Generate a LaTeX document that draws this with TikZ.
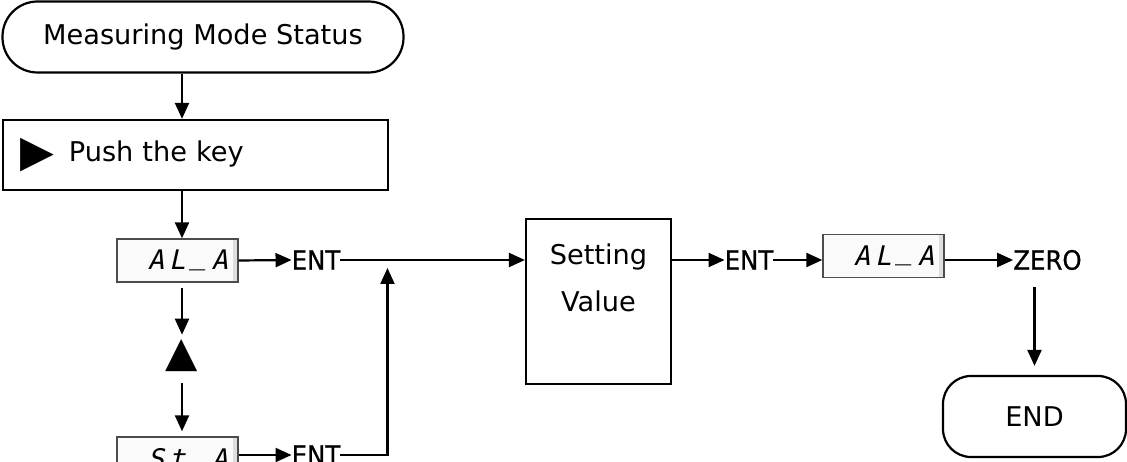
\documentclass[tikz,border=0pt]{standalone}
\usepackage{fontspec}
\setmainfont{DejaVu Sans}
\newfontfamily\segfont[FakeSlant=0.22]{DejaVu Sans Mono}
\newfontfamily\keyfont[FakeBold=0.8,FakeStretch=0.92]{DejaVu Sans}
\newcommand\lcdsep{\kern5pt}
\newcommand\lcdbar{\raisebox{.21em}{\_}}
\usetikzlibrary{arrows.meta}
\tikzset{
        every node/.style={font=\fontsize{27.2}{47}\selectfont},
        flow/.style={line width=2.2pt, -{Triangle[length=16pt,width=14pt]}},
        terminal/.style={draw=black, line width=2.2pt, rounded corners=35pt, inner sep=0pt},
        process/.style={draw=black, line width=2.2pt, inner sep=0pt},
        lcd/.style={draw=black!70, fill=black!2, line width=1.4pt, minimum width=121pt, minimum height=43pt,
          text width=101pt, align=right, inner xsep=10pt, inner ysep=0pt,
          font=\segfont\fontsize{27}{27}\selectfont,
          path picture={\fill[black!13] (path picture bounding box.north east) rectangle ([xshift=-5pt]path picture bounding box.south east);}},
        keyword/.style={inner sep=0pt, font=\keyfont\fontsize{26.5}{30}\selectfont},
        keysym/.style={inner sep=0pt, font=\fontsize{42}{42}\selectfont}
          }
\begin{document}
\begin{tikzpicture}[x=1pt,y=-1pt]
            \useasboundingbox (0,0) rectangle (1127,462);
            \clip (0,0) rectangle (1127,462);
            \node[terminal, minimum width=401pt, minimum height=71pt] (start) at (203,37) {Measuring Mode Status};
            \node[process, minimum width=385pt, minimum height=70pt, text width=351pt, align=left, inner xsep=17pt] (push) at (195.5,155)
              {\raisebox{-5pt}{\fontsize{44}{44}\selectfont ▶}\hspace{15pt}Push the key};
            \coordinate (trunk) at (182,0);
            \node[lcd] (d1) at (177.5,260.5) {A\lcdsep L\lcdsep\lcdbar\lcdsep A};
            \node[keysym] (up) at (181.5,356) {▲};
            \node[lcd] (d2) at (177.5,458.5) {S\lcdsep t\lcdsep\lcdbar\lcdsep A};
            \node[keyword] (ent1) at (316,260) {ENT};
            \node[keyword] (ent2) at (316,455) {ENT};
            \node[process, minimum width=145pt, minimum height=165pt, align=center] (set) at (598.5,301.5) {Setting\\Value\\~};
            \node[keyword] (ent3) at (749,260) {ENT};
            \node[lcd] (d3) at (883.5,256) {A\lcdsep L\lcdsep\lcdbar\lcdsep A};
            \node[keyword] (zero) at (1047.5,260) {ZERO};
            \node[terminal, rounded corners=28pt, minimum width=183pt, minimum height=81pt] (fin) at (1034.5,416.5) {END};
            \path (ent1.east) ++(47,0) coordinate (join);

            \draw[flow] (start.south -| trunk) -- (push.north -| trunk);
            \draw[flow] (push.south -| trunk) -- (d1.north -| trunk);
            \draw[flow, shorten <=5pt, shorten >=5pt] (d1.south -| trunk) -- (up.north -| trunk);
            \draw[flow, shorten <=11pt, shorten >=5pt] (up.south -| trunk) -- (d2.north -| trunk);
            \draw[flow] (d1.east) -- (ent1.west);
            \draw[flow] (ent1.east) -- (ent1.east -| set.west);
            \draw[flow] (d2.east |- ent2) -- (ent2.west);
            \draw[flow, shorten >=8pt] (ent2.east) -| (join);
            \draw[flow] (set.east |- ent3) -- (ent3.west);
            \draw[flow] (ent3.east) -- (ent3.east -| d3.west);
            \draw[flow] (d3.east |- zero) -- (zero.west);
            \draw[flow, shorten <=17pt, shorten >=9pt] (zero.south -| fin) -- (fin.north);
          \end{tikzpicture}
\end{document}
